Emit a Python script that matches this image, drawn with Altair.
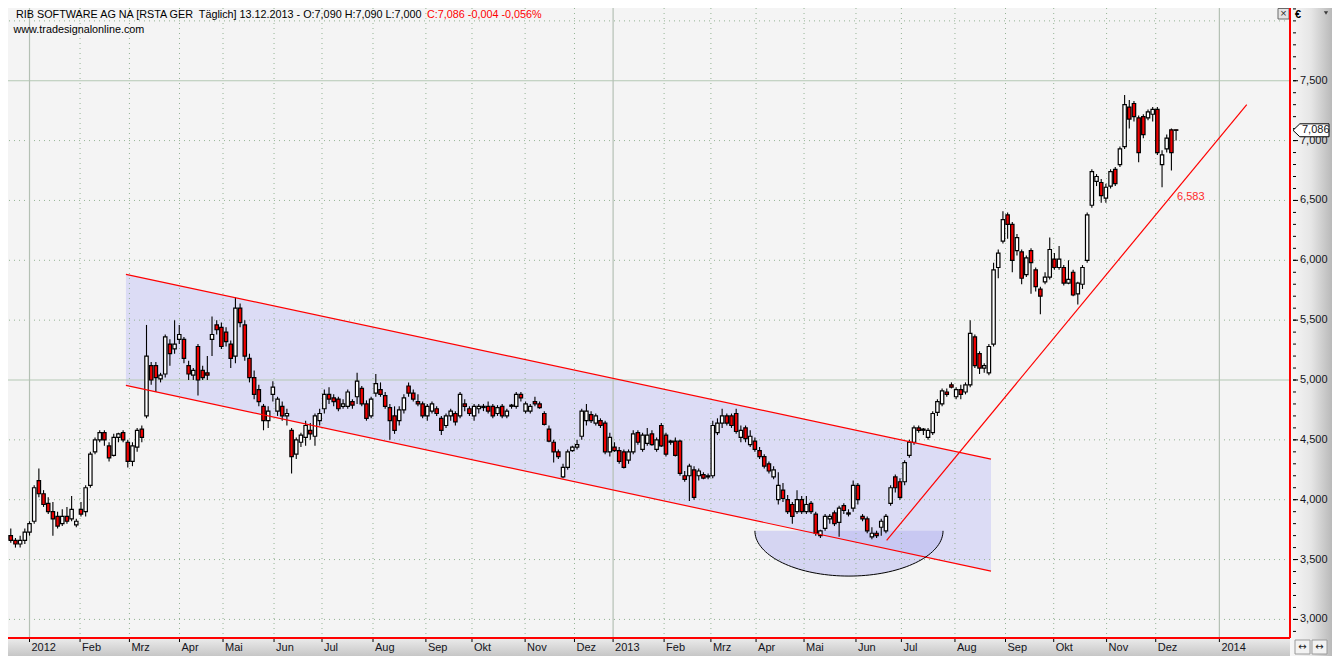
import altair as alt
import pandas as pd
import numpy as np

# ---------------- data ----------------
# one candle per two trading-day slots; slot index = position on the trading-day axis
slots = list(range(-12, 492, 2))
opens = [3.72, 3.67, 3.70, 3.66, 3.63, 3.66, 3.73, 3.82, 4.16, 4.05, 3.97, 3.90, 3.86, 3.80, 3.86, 3.84, 3.79, 3.92, 3.90, 4.12,
         4.40, 4.50, 4.56, 4.45, 4.37, 4.52, 4.56, 4.48, 4.32, 4.44, 4.59, 4.70, 5.12, 5.12, 5.01, 5.05, 5.30, 5.26, 5.34, 5.34,
         5.12, 5.04, 5.28, 5.08, 5.06, 5.34, 5.46, 5.44, 5.40, 5.30, 5.20, 5.60, 5.46, 5.18, 5.02, 4.92, 4.78, 4.66, 4.88, 4.74,
         4.78, 4.70, 4.58, 4.38, 4.48, 4.52, 4.58, 4.53, 4.66, 4.76, 4.88, 4.85, 4.84, 4.78, 4.78, 4.82, 4.86, 4.93, 4.80, 4.70,
         4.89, 4.92, 4.87, 4.77, 4.70, 4.66, 4.75, 4.95, 4.89, 4.82, 4.80, 4.70, 4.74, 4.76, 4.68, 4.62, 4.70, 4.72, 4.70, 4.80,
         4.76, 4.70, 4.76, 4.77, 4.78, 4.78, 4.72, 4.78, 4.70, 4.78, 4.78, 4.88, 4.74, 4.74, 4.82, 4.80, 4.72, 4.59, 4.48, 4.40,
         4.19, 4.27, 4.41, 4.44, 4.53, 4.66, 4.71, 4.64, 4.66, 4.64, 4.40, 4.44, 4.41, 4.40, 4.33, 4.40, 4.56, 4.42, 4.47, 4.55,
         4.42, 4.62, 4.54, 4.48, 4.49, 4.49, 4.20, 4.20, 4.25, 4.20, 4.21, 4.19, 4.20, 4.56, 4.64, 4.70, 4.70, 4.72, 4.52, 4.60,
         4.46, 4.49, 4.41, 4.36, 4.30, 4.19, 4.00, 4.08, 4.00, 3.96, 3.90, 4.00, 3.90, 3.97, 3.88, 3.70, 3.76, 3.84, 3.89, 3.81,
         3.95, 3.89, 3.93, 4.12, 3.86, 3.84, 3.69, 3.72, 3.77, 3.74, 3.97, 4.19, 4.15, 4.15, 4.37, 4.48, 4.60, 4.58, 4.52, 4.56,
         4.73, 4.80, 4.90, 4.96, 4.86, 4.92, 4.90, 4.96, 5.36, 5.22, 5.10, 5.06, 5.30, 5.94, 6.16, 6.38, 6.30, 6.08, 6.07, 5.88,
         6.08, 5.92, 5.76, 5.82, 5.86, 6.01, 5.94, 5.94, 5.81, 5.90, 5.72, 5.80, 6.00, 6.46, 6.66, 6.65, 6.52, 6.62, 6.76, 6.80,
         6.95, 7.28, 7.31, 7.19, 7.20, 7.19, 7.22, 7.26, 6.80, 6.93, 7.09, 7.09]
highs = [3.79, 3.74, 3.76, 3.68, 3.70, 3.76, 3.82, 4.12, 4.26, 4.08, 4.02, 3.98, 3.90, 3.92, 3.94, 4.03, 3.84, 3.98, 4.12, 4.40,
         4.52, 4.58, 4.58, 4.48, 4.55, 4.56, 4.58, 4.50, 4.48, 4.60, 4.62, 5.46, 5.15, 5.15, 5.06, 5.38, 5.34, 5.50, 5.46, 5.36,
         5.16, 5.10, 5.30, 5.12, 5.20, 5.53, 5.50, 5.48, 5.44, 5.33, 5.69, 5.64, 5.50, 5.22, 5.08, 4.96, 4.80, 4.78, 4.99, 4.86,
         4.82, 4.76, 4.60, 4.52, 4.56, 4.66, 4.64, 4.72, 4.76, 4.92, 4.94, 4.88, 4.86, 4.84, 4.92, 4.84, 5.06, 4.95, 4.83, 4.86,
         5.05, 4.98, 4.90, 4.80, 4.78, 4.78, 4.88, 4.98, 4.92, 4.88, 4.82, 4.80, 4.82, 4.78, 4.70, 4.72, 4.76, 4.74, 4.90, 4.84,
         4.78, 4.80, 4.80, 4.80, 4.82, 4.80, 4.79, 4.80, 4.76, 4.80, 4.90, 4.90, 4.82, 4.80, 4.86, 4.82, 4.74, 4.62, 4.50, 4.42,
         4.30, 4.42, 4.45, 4.50, 4.76, 4.80, 4.74, 4.72, 4.68, 4.66, 4.56, 4.48, 4.44, 4.42, 4.42, 4.58, 4.58, 4.56, 4.60, 4.58,
         4.52, 4.64, 4.56, 4.50, 4.52, 4.50, 4.24, 4.30, 4.28, 4.26, 4.23, 4.22, 4.66, 4.68, 4.76, 4.72, 4.72, 4.76, 4.62, 4.62,
         4.58, 4.52, 4.44, 4.38, 4.32, 4.28, 4.23, 4.14, 4.04, 3.98, 4.08, 4.03, 4.03, 3.99, 3.90, 3.75, 3.88, 3.88, 3.91, 3.95,
         3.97, 3.92, 4.16, 4.14, 3.88, 3.86, 3.77, 3.74, 3.84, 3.88, 4.12, 4.21, 4.18, 4.33, 4.50, 4.62, 4.62, 4.60, 4.60, 4.74,
         4.84, 4.93, 4.93, 4.98, 4.94, 4.96, 4.98, 5.50, 5.38, 5.24, 5.14, 5.30, 5.98, 6.09, 6.41, 6.40, 6.32, 6.22, 6.09, 6.04,
         6.10, 5.94, 5.78, 5.90, 6.19, 6.06, 6.12, 5.96, 6.00, 5.92, 5.82, 5.96, 6.40, 6.76, 6.72, 6.68, 6.64, 6.76, 6.78, 6.95,
         7.38, 7.34, 7.33, 7.21, 7.22, 7.26, 7.28, 7.28, 6.92, 7.05, 7.10, 7.09]
lows = [3.62, 3.62, 3.64, 3.60, 3.60, 3.63, 3.70, 3.80, 4.02, 3.94, 3.88, 3.70, 3.76, 3.78, 3.80, 3.82, 3.77, 3.86, 3.86, 4.10,
        4.38, 4.48, 4.45, 4.32, 4.36, 4.48, 4.48, 4.27, 4.28, 4.40, 4.48, 4.68, 4.96, 4.90, 4.98, 5.02, 5.12, 5.22, 5.30, 5.14,
        5.00, 5.00, 4.87, 5.00, 5.00, 5.20, 5.38, 5.26, 5.28, 5.10, 5.14, 5.44, 5.16, 4.98, 4.84, 4.78, 4.58, 4.60, 4.82, 4.70,
        4.66, 4.62, 4.22, 4.34, 4.44, 4.45, 4.50, 4.45, 4.62, 4.72, 4.80, 4.78, 4.74, 4.76, 4.76, 4.76, 4.80, 4.78, 4.66, 4.68,
        4.86, 4.86, 4.76, 4.50, 4.55, 4.62, 4.72, 4.86, 4.82, 4.78, 4.68, 4.66, 4.72, 4.70, 4.54, 4.60, 4.66, 4.62, 4.68, 4.74,
        4.70, 4.66, 4.72, 4.74, 4.72, 4.68, 4.70, 4.68, 4.68, 4.76, 4.76, 4.82, 4.72, 4.72, 4.78, 4.76, 4.62, 4.48, 4.31, 4.34,
        4.18, 4.25, 4.40, 4.42, 4.50, 4.62, 4.64, 4.62, 4.60, 4.38, 4.36, 4.40, 4.30, 4.26, 4.30, 4.38, 4.46, 4.40, 4.45, 4.45,
        4.40, 4.44, 4.36, 4.46, 4.36, 4.20, 4.15, 3.99, 4.00, 4.16, 4.17, 4.17, 4.18, 4.54, 4.60, 4.62, 4.60, 4.55, 4.48, 4.48,
        4.44, 4.40, 4.34, 4.26, 4.22, 4.17, 3.96, 3.98, 3.88, 3.80, 3.88, 3.88, 3.88, 3.88, 3.70, 3.68, 3.74, 3.80, 3.78, 3.69,
        3.88, 3.86, 3.90, 3.96, 3.82, 3.72, 3.67, 3.68, 3.70, 3.72, 3.95, 4.06, 4.00, 4.12, 4.35, 4.46, 4.56, 4.54, 4.50, 4.54,
        4.70, 4.78, 4.86, 4.93, 4.84, 4.84, 4.88, 4.94, 5.10, 5.05, 5.06, 5.04, 5.28, 5.85, 6.14, 6.18, 5.90, 6.04, 5.80, 5.86,
        5.72, 5.74, 5.55, 5.80, 5.84, 5.92, 5.92, 5.79, 5.80, 5.70, 5.63, 5.76, 5.98, 6.44, 6.62, 6.48, 6.48, 6.60, 6.62, 6.78,
        6.93, 7.10, 7.16, 6.82, 7.02, 7.17, 7.16, 6.88, 6.61, 6.90, 6.75, 7.00]
closes = [3.67, 3.70, 3.66, 3.63, 3.66, 3.73, 3.80, 4.10, 4.05, 3.96, 3.90, 3.84, 3.78, 3.86, 3.82, 3.92, 3.82, 3.88, 4.10, 4.38,
          4.50, 4.56, 4.50, 4.35, 4.52, 4.55, 4.50, 4.32, 4.45, 4.58, 4.52, 5.20, 5.00, 5.02, 5.04, 5.36, 5.22, 5.30, 5.38, 5.18,
          5.05, 5.08, 5.00, 5.02, 5.04, 5.38, 5.42, 5.28, 5.32, 5.18, 5.60, 5.48, 5.20, 5.02, 4.88, 4.82, 4.66, 4.74, 4.94, 4.84,
          4.70, 4.72, 4.36, 4.50, 4.54, 4.62, 4.55, 4.70, 4.72, 4.88, 4.84, 4.82, 4.76, 4.80, 4.90, 4.79, 4.99, 4.80, 4.68, 4.84,
          4.97, 4.88, 4.78, 4.66, 4.58, 4.75, 4.85, 4.89, 4.84, 4.80, 4.70, 4.78, 4.80, 4.72, 4.58, 4.70, 4.74, 4.65, 4.88, 4.78,
          4.72, 4.78, 4.78, 4.78, 4.74, 4.70, 4.77, 4.70, 4.74, 4.79, 4.88, 4.85, 4.80, 4.78, 4.80, 4.77, 4.63, 4.49, 4.40, 4.36,
          4.27, 4.40, 4.44, 4.46, 4.74, 4.74, 4.66, 4.70, 4.62, 4.40, 4.52, 4.41, 4.32, 4.27, 4.40, 4.55, 4.48, 4.54, 4.54, 4.46,
          4.50, 4.45, 4.38, 4.49, 4.37, 4.22, 4.17, 4.28, 4.02, 4.24, 4.18, 4.20, 4.62, 4.64, 4.70, 4.64, 4.62, 4.57, 4.58, 4.51,
          4.53, 4.42, 4.36, 4.28, 4.24, 4.25, 4.12, 4.01, 3.90, 3.86, 4.00, 3.90, 3.96, 3.90, 3.72, 3.74, 3.86, 3.86, 3.80, 3.93,
          3.91, 3.88, 4.12, 4.00, 3.84, 3.74, 3.72, 3.70, 3.82, 3.86, 4.10, 4.10, 4.02, 4.31, 4.48, 4.60, 4.58, 4.59, 4.58, 4.72,
          4.82, 4.91, 4.88, 4.94, 4.92, 4.88, 4.96, 5.39, 5.12, 5.10, 5.12, 5.28, 5.92, 6.06, 6.34, 6.30, 6.00, 6.19, 5.85, 6.02,
          5.98, 5.78, 5.70, 5.86, 6.09, 5.94, 6.01, 5.81, 5.84, 5.71, 5.81, 5.94, 6.38, 6.74, 6.70, 6.54, 6.61, 6.74, 6.64, 6.93,
          7.30, 7.18, 7.20, 6.90, 7.05, 7.24, 7.26, 6.90, 6.88, 7.02, 6.90, 7.086]

# month ticks of the bottom axis (trading-day position) and their labels
month_pos = [0, 21.6, 42.7, 64.1, 82.7, 104.5, 125.0, 146.8, 169.4, 189.1, 211.8, 232.9,
             249.4, 271.2, 291.2, 310.5, 331.0, 353.2, 372.6, 395.5, 417.1, 437.7, 460.3, 481.3, 508.5]
month_lab = ['2012', 'Feb', 'Mrz', 'Apr', 'Mai', 'Jun', 'Jul', 'Aug', 'Sep', 'Okt', 'Nov', 'Dez',
             '2013', 'Feb', 'Mrz', 'Apr', 'Mai', 'Jun', 'Jul', 'Aug', 'Sep', 'Okt', 'Nov', 'Dez', '2014']

# price axis
price_ticks = [3.0, 3.5, 4.0, 4.5, 5.0, 5.5, 6.0, 6.5, 7.0, 7.5]
grid_dotted = [3.0, 3.5, 4.0, 4.5, 5.5, 6.0, 6.5, 7.0, 8.0]
grid_solid = [5.0, 7.5]

# drawn tools: descending channel, rounding bottom, trend line
channel_x = [41.2, 410.9]
channel_top = [5.883, 4.339]
channel_bottom = [4.955, 3.403]
bowl_center_x, bowl_half_width = 350.2, 40.2
bowl_top, bowl_depth = 3.740, 0.378
trend_x = [366.3, 520.2]
trend_y = [3.66, 7.30]
trend_value = 6.583
last_close = 7.086

# ---------------- layout ----------------
W, H = 1282, 630
PR, PB = 42, 18
FONT = 'Liberation Sans'
xs = alt.Scale(domain=[-9.19, 538.68], nice=False, zero=False, padding=0)
ys = alt.Scale(domain=[2.8448, 8.1076], nice=False, zero=False, padding=0)


def X(f):
    return alt.X(f, type='quantitative', scale=xs, axis=None)


def Y(f):
    return alt.Y(f, type='quantitative', scale=ys, axis=None)


one = pd.DataFrame({'a': [0]})
candles = pd.DataFrame({'i': slots, 'o': opens, 'h': highs, 'l': lows, 'c': closes})
months = pd.DataFrame({'p': month_pos, 'lab': month_lab,
                       'year': [l.isdigit() for l in month_lab]})
chan = pd.DataFrame({'x': channel_x, 'top': channel_top, 'bot': channel_bottom})
t = np.linspace(0, np.pi, 73)
bowl = pd.DataFrame({'x': bowl_center_x + bowl_half_width * np.cos(t),
                     'y': bowl_top - bowl_depth * np.sin(t),
                     'y0': bowl_top}).sort_values('x')
trend = pd.DataFrame({'x': trend_x, 'y': trend_y})
ticks = pd.DataFrame({'v': price_ticks,
                      'lab': [f'{v:.3f}'.replace('.', ',') for v in price_ticks]})
minor = pd.DataFrame({'v': np.round(np.arange(2.9, 8.11, 0.1), 1)})

layers = []
# channel fill and rounding-bottom fill
layers.append(alt.Chart(chan).mark_area(color='#dcdcf5').encode(x=X('x'), y=Y('top'), y2='bot'))
layers.append(alt.Chart(bowl).mark_area(color='#b0b0f0', opacity=0.45).encode(x=X('x'), y=Y('y'), y2='y0'))

# grid
layers.append(alt.Chart(pd.DataFrame({'v': grid_dotted})).mark_rule(
    color='#93b393', strokeDash=[1, 4], strokeWidth=1).encode(y=Y('v')))
layers.append(alt.Chart(pd.DataFrame({'v': grid_solid})).mark_rule(
    color='#b4c8b4', strokeWidth=1.2).encode(y=Y('v')))
layers.append(alt.Chart(months[~months.year]).mark_rule(
    color='#93b393', strokeDash=[1, 4], strokeWidth=1).encode(x=X('p')))
layers.append(alt.Chart(months[months.year]).mark_rule(
    color='#b4c0b4', strokeWidth=1.2).encode(x=X('p')))

# candles
layers.append(alt.Chart(candles).mark_rule(color='black', strokeWidth=1.1, clip=True).encode(
    x=X('i'), y=Y('l'), y2='h'))
layers.append(alt.Chart(candles).mark_bar(size=3.4, stroke='black', strokeWidth=1.2, clip=True).encode(
    x=X('i'), y=Y('o'), y2='c',
    fill=alt.condition('datum.c >= datum.o', alt.value('white'), alt.value('#f00000'))))

# red tool lines
layers.append(alt.Chart(chan).mark_line(color='#ff0000', strokeWidth=1.2).encode(x=X('x'), y=Y('top')))
layers.append(alt.Chart(chan).mark_line(color='#ff0000', strokeWidth=1.2).encode(x=X('x'), y=Y('bot')))
layers.append(alt.Chart(trend).mark_line(color='#ff0000', strokeWidth=1.2).encode(x=X('x'), y=Y('y')))
layers.append(alt.Chart(bowl).mark_line(color='black', strokeWidth=1).encode(x=X('x'), y=Y('y')))
layers.append(alt.Chart(pd.DataFrame({'x': [490.4], 'y': [6.531],
                                      'lab': [f'{trend_value:.3f}'.replace('.', ',')]})).mark_text(
    align='left', baseline='middle', fontSize=11, font=FONT, color='#ff2a2a').encode(
    x=X('x'), y=Y('y'), text='lab:N'))

# header texts
layers.append(alt.Chart(one).mark_text(
    text='RIB SOFTWARE AG NA [RSTA GER\u00a0 Täglich] 13.12.2013 - O:7,090 H:7,090 L:7,000',
    align='left', baseline='middle', fontSize=10.8, font=FONT, color='black').encode(
    x=alt.value(8), y=alt.value(6.5)))
layers.append(alt.Chart(one).mark_text(
    text='C:7,086 -0,004 -0,056%', align='left', baseline='middle', fontSize=10.8, font=FONT,
    color='#ff0000').encode(x=alt.value(419), y=alt.value(6.5)))
layers.append(alt.Chart(one).mark_text(
    text='www.tradesignalonline.com', align='left', baseline='middle', fontSize=10.8, font=FONT,
    color='black').encode(x=alt.value(5.5), y=alt.value(21.5)))

# close box top right of plot
layers.append(alt.Chart(one).mark_rect(fill='#e4e4e4', stroke='#6a6a6a', strokeWidth=1).encode(
    x=alt.value(W - 12), x2=alt.value(W - 1), y=alt.value(0.5), y2=alt.value(11)))
layers.append(alt.Chart(one).mark_text(text='×', fontSize=11, font=FONT, color='#333333',
                                       baseline='middle').encode(x=alt.value(W - 6.5), y=alt.value(6)))

# panels
grad_h = alt.LinearGradient(gradient='linear', x1=0, x2=1, y1=0, y2=0,
                            stops=[alt.GradientStop(color='#f7f7f7', offset=0),
                                   alt.GradientStop(color='#e6e6e6', offset=0.5),
                                   alt.GradientStop(color='#b9b9b9', offset=1)])
grad_v = alt.LinearGradient(gradient='linear', x1=0, x2=0, y1=0, y2=1,
                            stops=[alt.GradientStop(color='#ececec', offset=0),
                                   alt.GradientStop(color='#c6c6c6', offset=1)])
layers.append(alt.Chart(one).mark_rect(fill=grad_h).encode(
    x=alt.value(W), x2=alt.value(W + PR), y=alt.value(0), y2=alt.value(H + PB)))
layers.append(alt.Chart(one).mark_rect(fill=grad_v).encode(
    x=alt.value(0), x2=alt.value(W), y=alt.value(H), y2=alt.value(H + PB)))
layers.append(alt.Chart(one).mark_rule(color='#ff0000', strokeWidth=2).encode(
    x=alt.value(W), y=alt.value(0), y2=alt.value(H)))
layers.append(alt.Chart(one).mark_rule(color='#ff0000', strokeWidth=2).encode(
    x=alt.value(0), x2=alt.value(W), y=alt.value(H)))

# right price axis
layers.append(alt.Chart(minor).mark_rule(color='black', strokeWidth=1).encode(
    y=Y('v'), x=alt.value(W + 3), x2=alt.value(W + 6)))
layers.append(alt.Chart(ticks).mark_rule(color='black', strokeWidth=1).encode(
    y=Y('v'), x=alt.value(W + 3), x2=alt.value(W + 8)))
layers.append(alt.Chart(ticks).mark_text(align='left', baseline='middle', fontSize=11, font=FONT,
                                         color='#141420').encode(
    y=Y('v'), x=alt.value(W + 10), text='lab:N'))
layers.append(alt.Chart(one).mark_text(text='€', align='left', baseline='middle', fontSize=11,
                                       font=FONT, fontWeight='bold', color='black').encode(
    x=alt.value(W + 5), y=alt.value(7)))
layers.append(alt.Chart(one).mark_point(shape='triangle-down', filled=True, color='black', size=18).encode(
    x=alt.value(W + 36), y=alt.value(5)))

# last price tag
tag_shape = 'M-1,0L-0.62,-0.36L1,-0.36L1,0.36L-0.62,0.36Z'
layers.append(alt.Chart(pd.DataFrame({'v': [last_close]})).mark_point(
    shape=tag_shape, size=1296, filled=True, color='white', stroke='black', strokeWidth=1,
    opacity=1).encode(y=Y('v'), x=alt.value(W + 21)))
layers.append(alt.Chart(pd.DataFrame({'v': [last_close],
                                      'lab': [f'{last_close:.3f}'.replace('.', ',')]})).mark_text(
    align='left', baseline='middle', fontSize=11, font=FONT, color='#141420').encode(
    y=Y('v'), x=alt.value(W + 12), text='lab:N'))

# bottom month axis
layers.append(alt.Chart(months).mark_rule(color='black', strokeWidth=1).encode(
    x=X('p'), y=alt.value(H + 1), y2=alt.value(H + 4)))
layers.append(alt.Chart(months).mark_text(align='left', baseline='middle', fontSize=11, font=FONT,
                                          color='#141420', dx=2).encode(
    x=X('p'), y=alt.value(H + 10), text='lab:N'))

# small scroll icons in the corner
for x0 in (W + 5, W + 22):
    layers.append(alt.Chart(one).mark_rect(fill='#f2f2f2', stroke='#9a9a9a', strokeWidth=1).encode(
        x=alt.value(x0), x2=alt.value(x0 + 15), y=alt.value(H + 2), y2=alt.value(H + 16)))
    layers.append(alt.Chart(one).mark_text(text='↔', fontSize=10, font='DejaVu Sans', color='#222222',
                                           baseline='middle').encode(
        x=alt.value(x0 + 7.5), y=alt.value(H + 9)))

chart = alt.layer(*layers).properties(
    width=W, height=H,
    autosize=alt.AutoSizeParams(type='none'),
    padding={'left': 0, 'top': 0, 'right': PR, 'bottom': PB},
    background='#f4f4f4',
).configure_view(stroke=None)

chart.save("out.html", embed_options={"renderer": "svg", "actions": False})
